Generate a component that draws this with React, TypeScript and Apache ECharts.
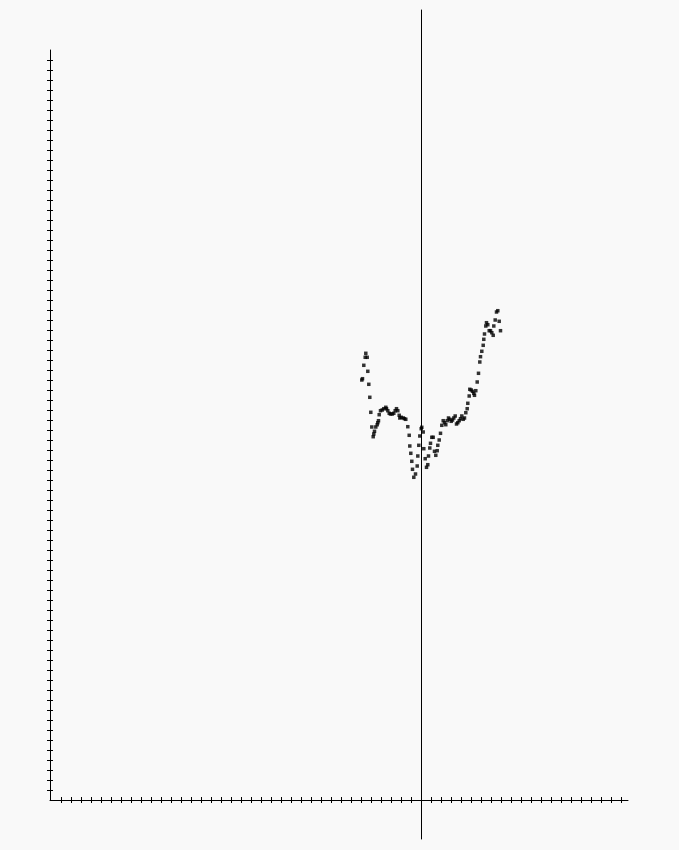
import React, { useEffect, useRef } from "react";
import * as echarts from "echarts";

// horizontal position of each dot (0 = the vertical reference line; 1 unit = one tick)
const xs = [
  -5.52, -5.58, -5.38, -5.72, -5.32, -5.85, -5.92, -5.22, -5.12, -5.02,
  -4.92, -4.78, -4.72, -4.65, -4.52, -4.38, -4.32, -4.25, -4.18, -4.05,
  -3.88, -3.72, -3.52, -3.45, -3.32, -3.18, -3.05, -2.88, -2.72, -2.58,
  -2.45, -2.32, -2.18, -2.12, -1.98, -1.78, -1.65, -1.52, -1.32, -1.18,
  -1.12, -1.02, -0.92, -0.85, -0.72, -0.55, -0.38, -0.32, -0.22, -0.12,
  0.02, 0.08, 0.22, 0.28, 0.42, 0.55, 0.68, 0.75, 0.88, 0.95,
  1.08, 1.22, 1.35, 1.48, 1.62, 1.68, 1.82, 1.95, 2.08, 2.22,
  2.35, 2.48, 2.62, 2.75, 2.88, 3.02, 3.15, 3.28, 3.42, 3.55,
  3.68, 3.82, 3.95, 4.08, 4.22, 4.35, 4.48, 4.62, 4.68, 4.82,
  4.88, 5.02, 5.15, 5.28, 5.35, 5.48, 5.62, 5.75, 5.88, 5.95,
  6.08, 6.22, 6.28, 6.35, 6.48, 6.55, 6.68, 6.82, 6.95, 7.08,
  7.22, 7.28, 7.42, 7.55, 7.68, 7.82, 7.95,
];

// vertical position of each dot (0 = horizontal axis; 1 unit = one tick)
const ys = [
  44.67, 44.27, 44.27, 43.47, 42.87, 42.13, 42.0, 41.57, 40.27, 38.77,
  37.3, 36.33, 36.6, 36.87, 37.3, 37.53, 37.73, 37.93, 38.53, 38.93,
  39.0, 39.13, 39.27, 39.13, 38.93, 38.67, 38.6, 38.6, 38.67, 38.93,
  39.13, 38.93, 38.47, 38.2, 38.27, 38.2, 38.13, 38.07, 37.33, 36.47,
  35.4, 34.67, 33.87, 33.07, 32.27, 32.6, 33.4, 34.4, 35.47, 36.4,
  37.13, 37.27, 36.8, 35.13, 34.13, 33.27, 33.53, 34.4, 35.2, 35.67,
  36.27, 36.27, 34.87, 34.47, 34.93, 35.47, 36.0, 36.67, 37.47, 37.93,
  37.73, 37.53, 37.93, 38.2, 38.07, 37.87, 38.0, 38.2, 38.4, 37.6,
  37.73, 37.93, 38.13, 38.4, 38.07, 38.2, 38.73, 39.13, 39.67, 40.4,
  41.07, 41.0, 40.87, 40.67, 40.47, 40.93, 41.8, 42.67, 43.8, 44.33,
  44.87, 45.47, 46.07, 46.6, 47.4, 47.73, 47.53, 46.93, 46.93, 46.73,
  46.47, 47.4, 48.0, 48.8, 48.93, 47.87, 46.93,
];

const X_MIN = -37.1;
const X_MAX = 20.7;
const Y_MIN = 0;
const Y_MAX = 75;

const xTickValues: number[] = [];
for (let v = -36; v <= 20; v++) xTickValues.push(v);
const yTickValues: number[] = [];
for (let v = 1; v <= 74; v++) yTickValues.push(v);

const INK = "#000000";

export default function App() {
  const ref = useRef<HTMLDivElement>(null);

  useEffect(() => {
    document.body.style.margin = "0";
    if (!ref.current) return;
    const chart = echarts.init(ref.current, undefined, { renderer: "svg" });

    const baseX = (extra: any) => ({
      type: "value",
      min: X_MIN,
      max: X_MAX,
      position: "bottom",
      splitLine: { show: false },
      axisLabel: { show: false },
      ...extra,
    });
    const baseY = (extra: any) => ({
      type: "value",
      min: Y_MIN,
      max: Y_MAX,
      position: "left",
      splitLine: { show: false },
      axisLabel: { show: false },
      ...extra,
    });

    const data = xs.map((x, i) => [x, ys[i]]);

    chart.setOption({
      animation: false,
      backgroundColor: "#f9f9f9",
      grid: [
        { left: 50, right: 51, top: 50, bottom: 50 },
        { left: 50, right: 51, top: 10, bottom: 11 },
      ],
      xAxis: [
        baseX({
          gridIndex: 0,
          axisLine: { show: true, onZero: false, lineStyle: { color: INK, width: 1 } },
          axisTick: {
            show: true,
            inside: true,
            length: 3,
            customValues: xTickValues,
            lineStyle: { color: INK, width: 1 },
          },
        }),
        baseX({
          gridIndex: 0,
          axisLine: { show: false, onZero: false },
          axisTick: {
            show: true,
            inside: false,
            length: 3,
            customValues: xTickValues,
            lineStyle: { color: INK, width: 1 },
          },
        }),
        baseX({
          gridIndex: 1,
          show: false,
          axisLine: { show: false, onZero: false },
          axisTick: { show: false },
        }),
      ],
      yAxis: [
        baseY({
          gridIndex: 0,
          axisLine: { show: true, onZero: false, lineStyle: { color: INK, width: 1 } },
          axisTick: {
            show: true,
            inside: true,
            length: 3,
            customValues: yTickValues,
            lineStyle: { color: INK, width: 1 },
          },
        }),
        baseY({
          gridIndex: 0,
          axisLine: { show: false, onZero: false },
          axisTick: {
            show: true,
            inside: false,
            length: 3,
            customValues: yTickValues,
            lineStyle: { color: INK, width: 1 },
          },
        }),
        {
          type: "value",
          gridIndex: 1,
          min: 0,
          max: 1,
          position: "left",
          splitLine: { show: false },
          axisLabel: { show: false },
          axisTick: { show: false },
          axisLine: { show: true, onZero: true, lineStyle: { color: INK, width: 1 } },
        },
      ],
      series: [
        {
          type: "scatter",
          xAxisIndex: 0,
          yAxisIndex: 0,
          symbol: "rect",
          symbolSize: 3.5,
          itemStyle: { color: INK },
          data,
        },
      ],
    });

    return () => chart.dispose();
  }, []);

  return (
    <div
      ref={ref}
      style={{ position: "absolute", left: 0, top: 0, width: 679, height: 850 }}
    />
  );
}
